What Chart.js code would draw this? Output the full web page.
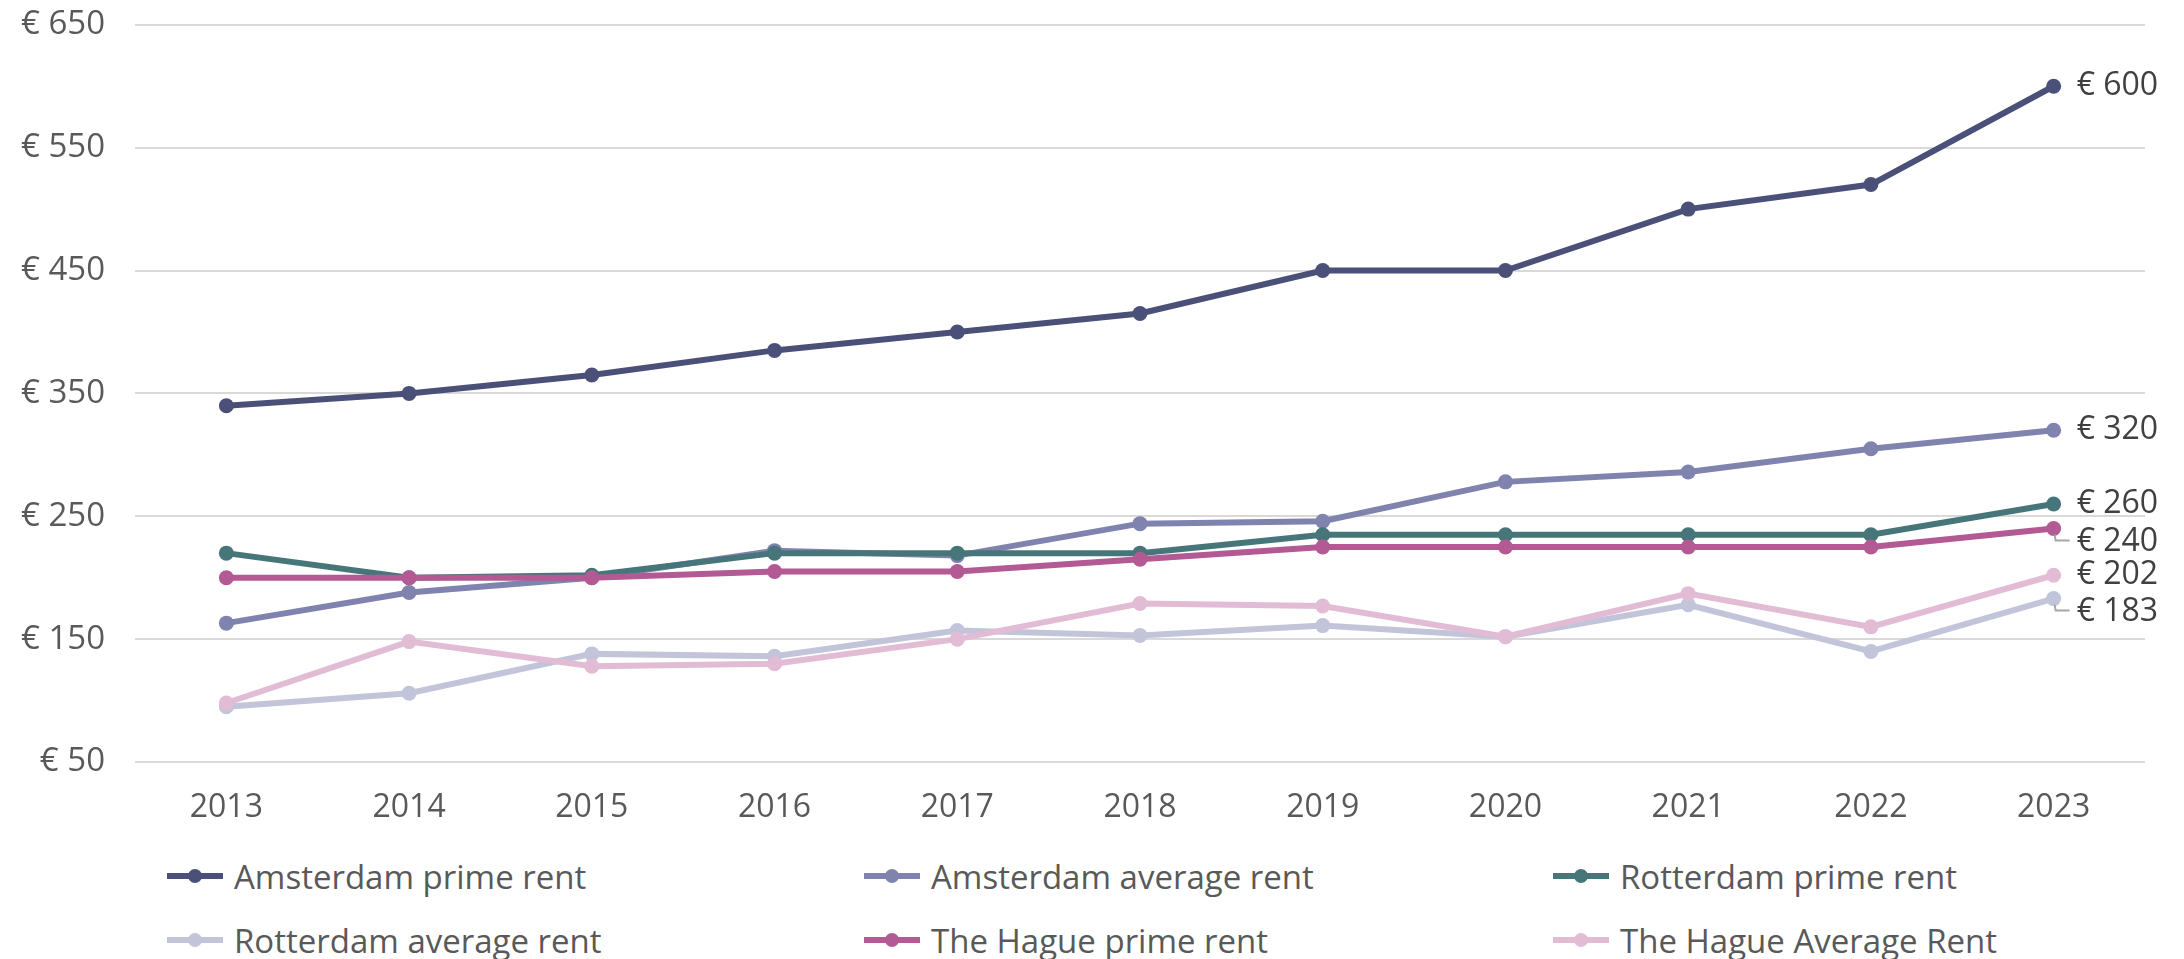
<!DOCTYPE html>
<html>
<head>
<meta charset="utf-8">
<script src="https://cdn.jsdelivr.net/npm/chart.js@4"></script>
<style>
	html, body {
		margin: 0;
		width: 2184px;
		height: 959px;
		overflow: hidden;
		background: #fff;
		font-family: 'Open Sans', sans-serif;
	}
	#wrap {
		position: absolute;
		left: 0;
		top: -25px;
		width: 2184px;
		height: 865px;
	}
	#legend {
		position: absolute;
		left: 167px;
		top: 844px;
		display: grid;
		grid-template-columns: 697px 689px auto;
		grid-auto-rows: 64px;
		align-items: center;
		color: #595959;
		font-size: 33px;
	}
	#legend .item {
		display: flex;
		align-items: center;
		white-space: nowrap;
	}
	#legend .key {
		position: relative;
		width: 56px;
		height: 6px;
		margin-right: 11px;
	}
	#legend .key i {
		position: absolute;
		left: 21px;
		top: -4px;
		width: 14px;
		height: 14px;
		border-radius: 50%;
		background: inherit;
	}
</style>
</head>
<body>
<div id="wrap"><canvas id="rents"></canvas></div>
<div id="legend"></div>

<script>
const years = ['2013', '2014', '2015', '2016', '2017', '2018', '2019', '2020', '2021', '2022', '2023']

const amsterdamPrime = [340, 350, 365, 385, 400, 415, 450, 450, 500, 520, 600]
const amsterdamAvg = [163, 188, 200, 222, 218, 244, 246, 278, 286, 305, 320]
const rotterdamPrime = [220, 200, 202, 220, 220, 220, 235, 235, 235, 235, 260]
const rotterdamAvg = [95, 106, 138, 136, 157, 153, 161, 152, 178, 140, 183]
const haguePrime = [200, 200, 200, 205, 205, 215, 225, 225, 225, 225, 240]
const hagueAvg = [98, 148, 128, 130, 150, 179, 177, 152, 187, 160, 202]

const seriesNames = [
	'Amsterdam prime rent',
	'Amsterdam average rent',
	'Rotterdam prime rent',
	'Rotterdam average rent',
	'The Hague prime rent',
	'The Hague Average Rent',
]
const seriesValues = [amsterdamPrime, amsterdamAvg, rotterdamPrime, rotterdamAvg, haguePrime, hagueAvg]
const seriesColors = ['#4b5079', '#7f83ae', '#47767a', '#c2c4da', '#b35993', '#e2bcd5']

// vertical nudge for the end labels that would collide (Rotterdam avg, Hague prime)
const labelShift = [0, 0, 0, 13, 13, 0]

const FONT = "'Open Sans', sans-serif"

const datasets = seriesNames.map((name, i) => {
	return {
		label: name,
		data: seriesValues[i],
		borderColor: seriesColors[i],
		backgroundColor: seriesColors[i],
		pointBackgroundColor: seriesColors[i],
		pointBorderWidth: 0,
		pointRadius: 7.5,
		borderWidth: 6,
		tension: 0,
		fill: false,
		order: seriesNames.length - i,
	}
})

//value labels next to the last point of every line
const endLabels = {
	id: 'endLabels',
	afterDatasetsDraw: chart => {
		const ctx = chart.ctx
		ctx.save()
		ctx.font = `32px ${FONT}`
		ctx.fillStyle = '#404040'
		ctx.textBaseline = 'middle'
		ctx.textAlign = 'left'

		chart.data.datasets.forEach((ds, i) => {
			const meta = chart.getDatasetMeta(i)
			const last = ds.data.length - 1
			const pt = meta.data[last]
			const x = pt.x + 23
			const y = pt.y + labelShift[i]

			//small leader line down to the shifted label
			if (labelShift[i]) {
				ctx.strokeStyle = '#a6a6a6'
				ctx.lineWidth = 2
				ctx.beginPath()
				ctx.moveTo(pt.x + 1, pt.y + 6)
				ctx.lineTo(pt.x + 2, y - 1)
				ctx.lineTo(pt.x + 16, y - 1)
				ctx.stroke()
			}
			ctx.fillText(`€ ${ds.data[last]}`, x, y)
		})
		ctx.restore()
	},
}

const ctx = document.querySelector('#rents').getContext('2d')
const chart = new Chart(ctx, {
	type: 'line',
	data: {
		labels: years,
		datasets: datasets,
	},
	options: {
		responsive: true,
		maintainAspectRatio: false,
		animation: false,
		layout: {
			padding: { left: 0, right: 39, top: 6, bottom: 0 },
		},
		plugins: {
			legend: { display: false },
			tooltip: { enabled: false },
		},
		scales: {
			x: {
				offset: true,
				grid: { display: false, drawTicks: false },
				border: { display: false },
				ticks: {
					color: '#595959',
					font: { family: FONT, size: 32 },
					padding: 27,
					maxRotation: 0,
				},
				afterFit: axis => {
					axis.height = 78
				},
			},
			y: {
				min: 50,
				max: 650,
				grid: { color: '#d9d9d9', lineWidth: 2, drawTicks: false },
				border: { display: false },
				ticks: {
					stepSize: 100,
					color: '#595959',
					font: { family: FONT, size: 33 },
					padding: 30,
					callback: v => `€ ${v}`,
				},
				afterFit: axis => {
					axis.width = 135
				},
			},
		},
	},
	plugins: [endLabels],
})

//html legend, three columns
let html = ``
seriesNames.forEach((name, i) => {
	html += `<div class="item">`
	html += `<span class="key" style="background:${seriesColors[i]}"><i></i></span>`
	html += `<span>${name}</span>`
	html += `</div>`
})
document.querySelector('#legend').innerHTML = html
</script>
</body>
</html>
